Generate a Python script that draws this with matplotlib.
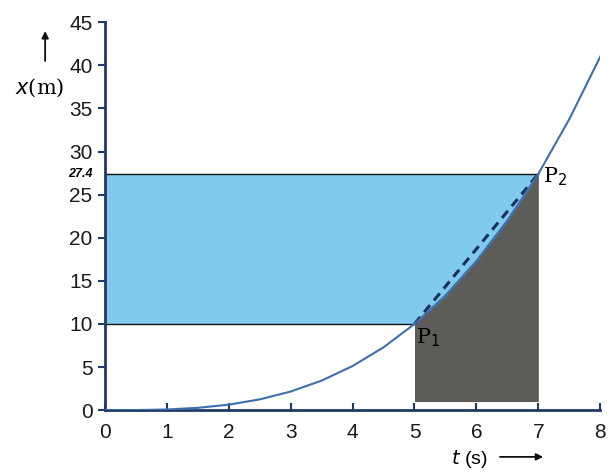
import numpy as np
import matplotlib.pyplot as plt

# position-time values (t in s, x in m)
t_pts = [0, 0.5, 1, 1.5, 2, 2.5, 3, 3.5, 4, 4.5, 5, 5.5, 6, 6.5, 7, 7.5, 8]
x_pts = [0, 0.01, 0.08, 0.27, 0.64, 1.25, 2.16, 3.43, 5.12, 7.29, 10.0,
         13.3, 17.3, 22.0, 27.4, 33.75, 41.0]

# the two marked points
t1, x1 = 5, 10
t2, x2 = 7, 27.4

x_ticks = [0, 1, 2, 3, 4, 5, 6, 7, 8]
y_ticks = [0, 5, 10, 15, 20, 25, 30, 35, 40, 45]

plt.rcParams['font.family'] = ['Liberation Sans', 'DejaVu Sans']

t_arr = np.array(t_pts)
x_arr = np.array(x_pts)
seg = (t_arr >= t1) & (t_arr <= t2)

fig = plt.figure(figsize=(6.1, 4.72), dpi=100)
ax = fig.add_axes([0.172, 0.131, 0.812, 0.822])

axis_col = '#1f3a66'
curve_col = '#3d6fae'

# blue region: between x1 and x2, left of the curve
poly_t = [0] + list(t_arr[seg]) + [0]
poly_x = [x1] + list(x_arr[seg]) + [x2]
ax.fill(poly_t, poly_x, color='#80caee', lw=0, zorder=1)

# grey region under the curve from t1 to t2
ax.fill_between(t_arr[seg], 1.0, x_arr[seg], color='#5d5c59', lw=0, zorder=1)

# horizontal guide lines
ax.plot([0, t1], [x1, x1], color='#111111', lw=1, zorder=2)
ax.plot([0, t2], [x2, x2], color='#111111', lw=1, zorder=2)

# chord P1-P2
ax.plot([t1, t2], [x1, x2], color='#1a2f5a', lw=2.2, ls=(0, (3, 2)), zorder=3)

# curve
ax.plot(t_arr, x_arr, color=curve_col, lw=1.5, zorder=4)

ax.text(t1 + 0.02, x1 - 0.3, 'P$_1$', fontsize=15, family='DejaVu Serif',
        va='top', ha='left', zorder=5)
ax.text(t2 + 0.08, x2 - 0.3, 'P$_2$', fontsize=15, family='DejaVu Serif',
        va='center', ha='left', zorder=5)

ax.set_xlim(0, 8)
ax.set_ylim(0, 45)
ax.set_xticks(x_ticks)
ax.set_yticks(y_ticks)
ax.tick_params(axis='both', labelsize=15, colors='#1a1a1a', length=5, width=1.5)
ax.tick_params(axis='x', direction='in', pad=9)
ax.tick_params(axis='y', direction='out', pad=4)
ax.tick_params(axis='both', color=axis_col)

for s in ['top', 'right']:
    ax.spines[s].set_visible(False)
for s in ['left', 'bottom']:
    ax.spines[s].set_color(axis_col)
    ax.spines[s].set_linewidth(2)

# extra label for 27.4
ax.text(-0.2, x2, '27.4', fontsize=9, fontweight='bold', style='italic',
        ha='right', va='center')

# axis labels with arrows
fig.text(0.065, 0.815, '$x$(m)', fontsize=15, family='DejaVu Serif',
         ha='center', va='center')
ax.annotate('', xy=(0.074, 0.94), xytext=(0.074, 0.865), xycoords='figure fraction',
            arrowprops=dict(arrowstyle='-|>', color='#111111', lw=1.3, mutation_scale=10))

fig.text(0.77, 0.028, '$t$ (s)', fontsize=14, ha='center', va='center')
ax.annotate('', xy=(0.895, 0.032), xytext=(0.815, 0.032), xycoords='figure fraction',
            arrowprops=dict(arrowstyle='-|>', color='#111111', lw=1.3, mutation_scale=10))

fig.savefig('out.png', dpi=100)
